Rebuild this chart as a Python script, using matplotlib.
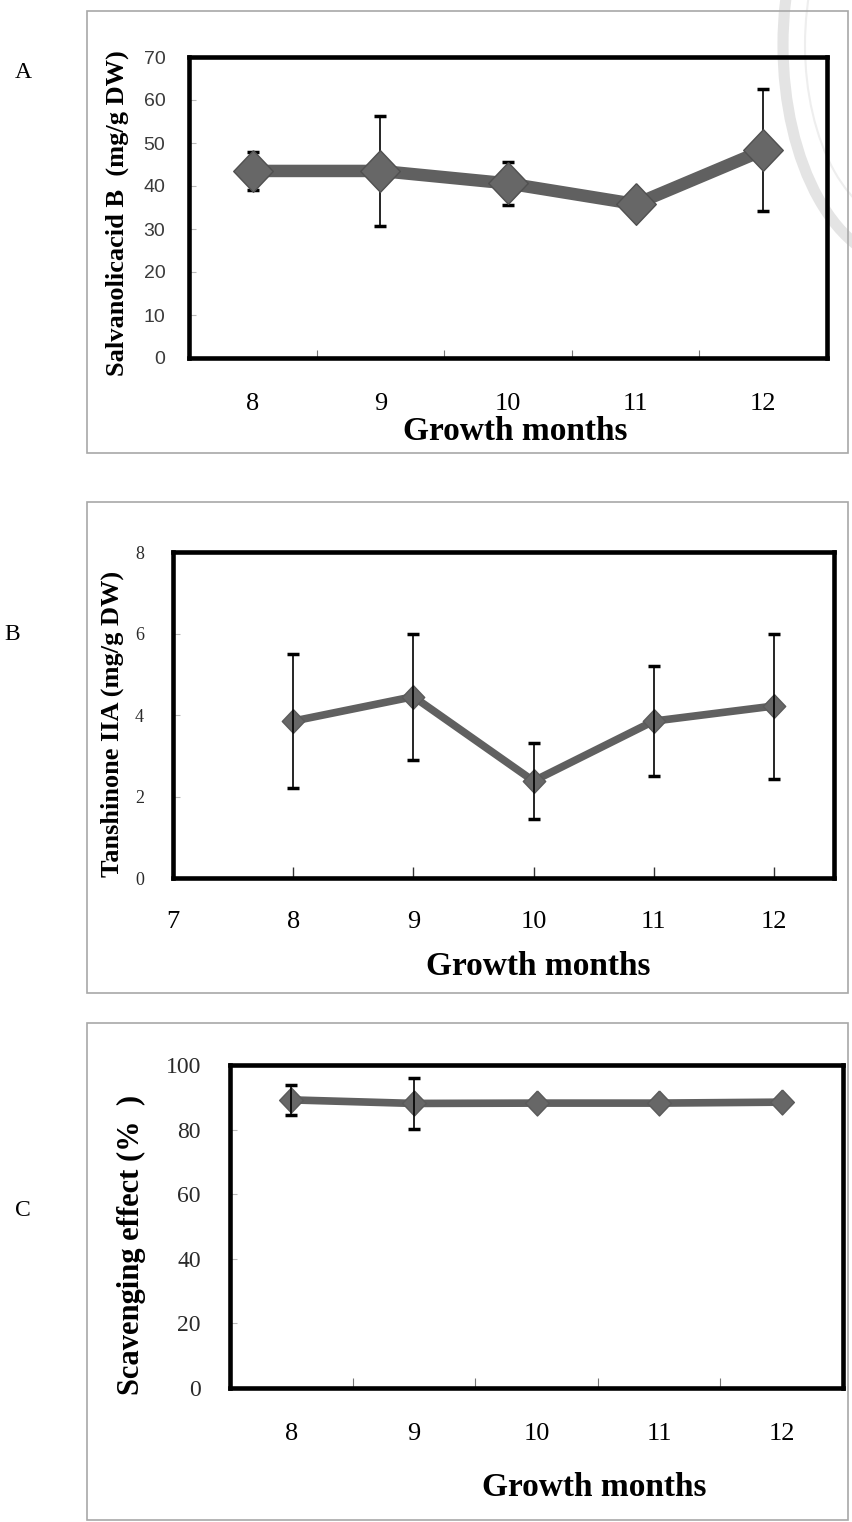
import matplotlib
matplotlib.use("Agg")
import matplotlib.pyplot as plt
from matplotlib.patches import Rectangle, Circle

W, H = 853, 1522

months = [8, 9, 10, 11, 12]

# panel A - salvanolic acid B (mg/g DW)
sal_b = [43.5, 43.5, 40.6, 35.8, 48.3]
sal_b_err = [4.5, 12.7, 5.0, 0.0, 14.2]

# panel B - tanshinone IIA (mg/g DW)
tan_iia = [3.85, 4.45, 2.38, 3.85, 4.22]
tan_iia_err = [1.65, 1.55, 0.93, 1.35, 1.78]

# panel C - scavenging effect (%)
scav = [89.2, 88.1, 88.2, 88.2, 88.5]
scav_err = [4.6, 7.9, 0.0, 0.0, 0.0]

SERIF = ["Liberation Serif", "DejaVu Serif"]
SANS = ["Liberation Sans", "DejaVu Sans"]
LINE_C = "#606060"
MARK_C = "#676767"
DIAMOND = [(0, 1), (0.95, 0), (0, -1), (-0.95, 0), (0, 1)]

fig = plt.figure(figsize=(W / 100, H / 100), dpi=100)


def px_axes(l, t, r, b):
    a = fig.add_axes([l / W, 1 - b / H, (r - l) / W, (b - t) / H])
    a.patch.set_alpha(0)
    return a


def frame(l, t, r, b):
    fig.add_artist(Rectangle((l / W, 1 - b / H), (r - l) / W, (b - t) / H,
                             transform=fig.transFigure, fill=False,
                             ec="#a8a8a8", lw=1.2))


def ftext(x, y, s, **kw):
    fig.text(x / W, 1 - y / H, s, **kw)


def style_box(ax):
    for sp in ax.spines.values():
        sp.set_linewidth(3.3)
        sp.set_color("black")


def bars(ax, x, y, err, z):
    # only draw error bars that are non-zero
    keep = [i for i, e in enumerate(err) if e > 0]
    ax.errorbar([x[i] for i in keep], [y[i] for i in keep], yerr=[err[i] for i in keep],
                fmt="none", ecolor="black", elinewidth=1.2, capsize=4,
                capthick=2.5, zorder=z)


# faint seal in top-right corner, behind the charts
fig.add_artist(Circle((905 / W, 1 - 45 / H), 122 / W, transform=fig.transFigure,
                      fill=False, ec="#e4e4e4", lw=8, zorder=-2))
fig.add_artist(Circle((905 / W, 1 - 45 / H), 100 / W, transform=fig.transFigure,
                      fill=False, ec="#eeeeee", lw=1.5, zorder=-2))

# ---------------- A ----------------
frame(87, 11, 848, 453)
ax = px_axes(189, 57, 827, 358)
bars(ax, months, sal_b, sal_b_err, 2)
ax.plot(months, sal_b, color=LINE_C, lw=9, zorder=3)
ax.plot(months, sal_b, ls="none", marker=DIAMOND, ms=30, mfc=MARK_C,
        mec="#505050", mew=1, zorder=4)
ax.set_xlim(7.5, 12.5)
ax.set_ylim(0, 70)
ax.set_yticks(range(0, 71, 10))
ax.set_xticks(months)
ax.set_xticks([8.5, 9.5, 10.5, 11.5], minor=True)
ax.tick_params(axis="x", which="major", length=0, pad=25, labelsize=19)
ax.tick_params(axis="x", which="minor", direction="in", length=6, width=0.8, color="#777777")
ax.tick_params(axis="y", direction="in", length=5, width=0.8, color="#bbbbbb",
               pad=17, labelsize=14, labelcolor="#3a3a3a")
for lab in ax.get_xticklabels():
    lab.set_family(SERIF)
for lab in ax.get_yticklabels():
    lab.set_family(SANS)
style_box(ax)
ftext(117, 213, "Salvanolicacid B  (mg/g DW)", rotation=90, ha="center", va="center",
      family=SERIF, fontweight="bold", fontsize=19)
ftext(515, 440, "Growth months", ha="center", va="baseline",
      family=SERIF, fontweight="bold", fontsize=24)
ftext(23, 72, "A", ha="center", va="center", family=SERIF, fontsize=17)

# ---------------- B ----------------
frame(87, 502, 848, 993)
ax = px_axes(173, 552, 834, 878)
ax.plot(months, tan_iia, color=LINE_C, lw=5.5, zorder=2)
ax.plot(months, tan_iia, ls="none", marker=DIAMOND, ms=17, mfc=MARK_C,
        mec="#5a5a5a", mew=1, zorder=3)
bars(ax, months, tan_iia, tan_iia_err, 4)
ax.set_xlim(7, 12.5)
ax.set_ylim(0, 8)
ax.set_yticks(range(0, 9, 2))
ax.set_xticks([7] + months)
ax.tick_params(axis="x", direction="in", length=8, width=1, color="#333333",
               pad=24, labelsize=19)
ax.tick_params(axis="y", direction="in", length=5, width=0.8, color="#bbbbbb",
               pad=21, labelsize=13, labelcolor="#2a2a2a")
for lab in ax.get_xticklabels() + ax.get_yticklabels():
    lab.set_family(SERIF)
style_box(ax)
ftext(112, 724, "Tanshinone IIA (mg/g DW)", rotation=90, ha="center", va="center",
      family=SERIF, fontweight="bold", fontsize=19)
ftext(538, 975, "Growth months", ha="center", va="baseline",
      family=SERIF, fontweight="bold", fontsize=24)
ftext(12, 635, "B", ha="center", va="center", family=SERIF, fontsize=17)

# ---------------- C ----------------
frame(87, 1023, 848, 1520)
ax = px_axes(230, 1065, 843, 1388)
ax.plot(months, scav, color=LINE_C, lw=5.5, zorder=2)
ax.plot(months, scav, ls="none", marker=DIAMOND, ms=18, mfc=MARK_C,
        mec="#5a5a5a", mew=1, zorder=3)
bars(ax, months, scav, scav_err, 4)
ax.set_xlim(7.5, 12.5)
ax.set_ylim(0, 100)
ax.set_yticks(range(0, 101, 20))
ax.set_xticks(months)
ax.set_xticks([8.5, 9.5, 10.5, 11.5], minor=True)
ax.tick_params(axis="x", which="major", length=0, pad=25, labelsize=19)
ax.tick_params(axis="x", which="minor", direction="in", length=7, width=0.8, color="#777777")
ax.tick_params(axis="y", direction="in", length=5, width=0.8, color="#bbbbbb",
               pad=21, labelsize=17, labelcolor="#2a2a2a")
for lab in ax.get_xticklabels() + ax.get_yticklabels():
    lab.set_family(SERIF)
style_box(ax)
ftext(131, 1245, "Scavenging effect (%  )", rotation=90, ha="center", va="center",
      family=SERIF, fontweight="bold", fontsize=22)
ftext(594, 1496, "Growth months", ha="center", va="baseline",
      family=SERIF, fontweight="bold", fontsize=24)
ftext(23, 1210, "C", ha="center", va="center", family=SERIF, fontsize=17)

fig.savefig("out.png", dpi=100)
